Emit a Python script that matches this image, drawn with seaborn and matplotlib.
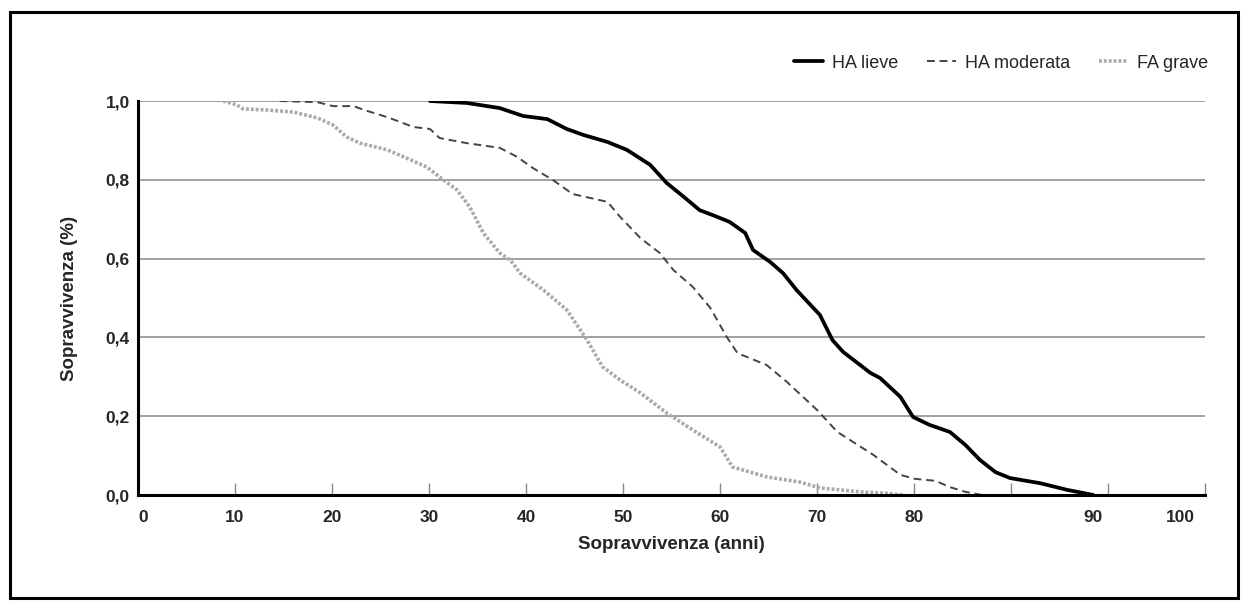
import numpy as np
import pandas as pd
import seaborn as sns
import matplotlib.pyplot as plt
from matplotlib.patches import Rectangle
from matplotlib.lines import Line2D

# curve points (x in axis units, one tick = 10)
lieve_x = [30.1, 33.9, 37.3, 39.7, 42.2, 44.2, 45.9, 48.4, 50.4, 52.8, 54.5, 56.4, 57.9, 59.5,
           61.0, 62.6, 63.4, 65.2, 66.5, 67.9, 70.3, 71.6, 72.7, 75.5, 76.5, 78.6, 79.9, 81.6,
           83.7, 85.3, 86.8, 88.4, 89.9, 93.0, 95.8, 98.5]
lieve_y = [1.000, 0.995, 0.982, 0.962, 0.954, 0.929, 0.914, 0.896, 0.876, 0.838, 0.792, 0.754,
           0.723, 0.708, 0.693, 0.665, 0.622, 0.591, 0.563, 0.520, 0.457, 0.393, 0.363, 0.310,
           0.297, 0.249, 0.198, 0.178, 0.160, 0.127, 0.089, 0.058, 0.043, 0.030, 0.013, 0.000]

moderata_x = [14.6, 18.5, 20.1, 22.2, 23.6, 25.7, 28.4, 30.1, 31.1, 33.9, 37.3, 39.1, 40.7, 42.8,
              44.8, 48.4, 49.7, 51.8, 53.8, 55.2, 57.2, 59.0, 60.7, 61.8, 64.8, 66.9, 70.0, 72.1,
              75.8, 78.6, 80.1, 82.2, 83.7, 85.3, 87.0]
moderata_y = [1.000, 0.997, 0.987, 0.987, 0.975, 0.959, 0.934, 0.929, 0.906, 0.893, 0.881, 0.858,
              0.830, 0.799, 0.764, 0.744, 0.706, 0.652, 0.614, 0.571, 0.528, 0.475, 0.401, 0.360,
              0.330, 0.287, 0.216, 0.160, 0.102, 0.051, 0.041, 0.036, 0.020, 0.008, 0.000]

grave_x = [8.8, 10.2, 10.8, 13.3, 16.0, 18.5, 20.1, 21.5, 22.9, 25.7, 27.7, 29.8, 31.1, 32.9, 34.2,
           35.6, 37.3, 38.4, 39.4, 41.8, 44.2, 46.3, 47.9, 49.7, 51.8, 54.5, 57.2, 60.0, 61.3,
           64.8, 68.2, 70.3, 74.4, 76.8, 78.9]
grave_y = [1.000, 0.990, 0.980, 0.977, 0.972, 0.957, 0.939, 0.909, 0.893, 0.876, 0.855, 0.832,
           0.807, 0.774, 0.731, 0.665, 0.614, 0.596, 0.563, 0.520, 0.470, 0.393, 0.325, 0.292,
           0.259, 0.208, 0.165, 0.122, 0.071, 0.046, 0.033, 0.018, 0.008, 0.005, 0.000]

series_names = ["HA lieve", "HA moderata", "FA grave"]
y_ticks = [0.0, 0.2, 0.4, 0.6, 0.8, 1.0]
x_tick_labels = ["0", "10", "20", "30", "40", "50", "60", "70", "80", "90", "100"]
x_label_pos = [0.5, 10, 20, 30, 40, 50, 60, 70, 80, 98.5, 107.5]

sns.set_style("white")
plt.rcParams["font.family"] = ["Liberation Sans", "DejaVu Sans"]

fig = plt.figure(figsize=(12.48, 6.10), dpi=100)
ax = fig.add_axes([138 / 1248, 1 - 495 / 610, (1205 - 138) / 1248, (495 - 101) / 610])

styles = [
    dict(color="black", lw=2.7, linestyle="-"),
    dict(color="#444444", lw=1.4, linestyle=(0, (4, 2.5))),
    dict(color="#aaaaaa", lw=2.6, linestyle=(0, (0.8, 0.55))),
]
data = [(lieve_x, lieve_y), (moderata_x, moderata_y), (grave_x, grave_y)]

for name, (xs, ys), st in zip(series_names, data, styles):
    df = pd.DataFrame({"x": xs, "y": ys})
    sns.lineplot(data=df, x="x", y="y", ax=ax, estimator=None, sort=False,
                 color=st["color"], linewidth=st["lw"], linestyle=st["linestyle"], zorder=3)

ax.set_xlim(0, 110)
ax.set_ylim(0, 1.0)
ax.set_yticks(y_ticks)
ax.set_yticklabels([f"{v:.1f}".replace(".", ",") for v in y_ticks], fontweight="bold", fontsize=12.5)
ax.yaxis.grid(True, color="#999999", lw=1.3)
ax.set_axisbelow(True)
ax.tick_params(axis="y", length=0, pad=6)

ax.xaxis.remove_overlapping_locs = False
ax.set_xticks(x_label_pos)
ax.set_xticklabels(x_tick_labels, fontweight="bold", fontsize=12.5)
ax.set_xticks(np.arange(10, 111, 10), minor=True)
ax.tick_params(axis="x", which="major", length=0, pad=11)
ax.tick_params(axis="x", which="minor", bottom=True, direction="in", length=9, width=1,
               color="#888888")

for s in ["top", "right"]:
    ax.spines[s].set_visible(False)
for s in ["left", "bottom"]:
    ax.spines[s].set_color("black")
    ax.spines[s].set_linewidth(2.2)
    ax.spines[s].set_zorder(4)

ax.set_xlabel("Sopravvivenza (anni)", fontweight="bold", fontsize=13.5, labelpad=8)
ax.set_ylabel("Sopravvivenza (%)", fontweight="bold", fontsize=13.5, labelpad=20)

handles = [Line2D([], [], color=st["color"], lw=st["lw"], linestyle=st["linestyle"]) for st in styles]
fig.legend(handles, series_names, loc="center right", bbox_to_anchor=(1224 / 1248, 1 - 63 / 610),
           ncol=3, frameon=False, fontsize=13, handlelength=1.6, handletextpad=0.5,
           columnspacing=1.6)

fig.add_artist(Rectangle((10 / 1248, 12 / 610), 1228 / 1248, 586 / 610, transform=fig.transFigure,
                         fill=False, edgecolor="black", lw=2.2))

fig.savefig("out.png", dpi=100)
